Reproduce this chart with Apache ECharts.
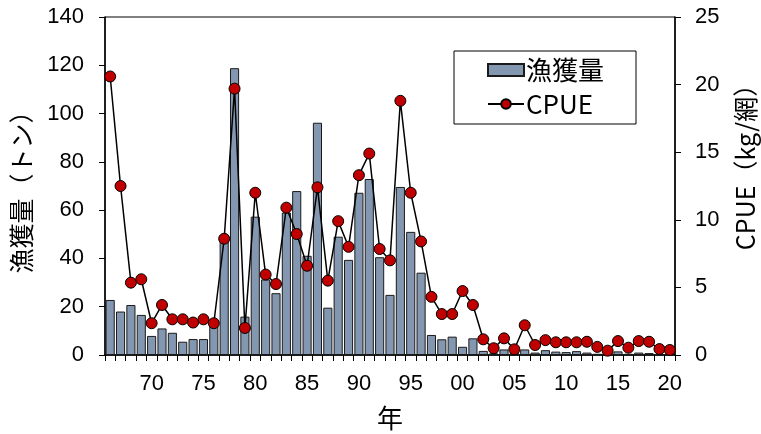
<!DOCTYPE html>
<html>
<head>
<meta charset="utf-8">
<script src="https://cdn.jsdelivr.net/npm/echarts@6/dist/echarts.min.js"></script>
<style>
html,body{margin:0;padding:0;background:#fff;}
#chart{width:761px;height:434px;}
</style>
</head>
<body>
<div id="chart"></div>
<script>
// Years 1966-2020
const years = ['1966','1967','1968','1969','1970','1971','1972','1973','1974','1975',
  '1976','1977','1978','1979','1980','1981','1982','1983','1984','1985',
  '1986','1987','1988','1989','1990','1991','1992','1993','1994','1995',
  '1996','1997','1998','1999','2000','2001','2002','2003','2004','2005',
  '2006','2007','2008','2009','2010','2011','2012','2013','2014','2015',
  '2016','2017','2018','2019','2020'];

// 漁獲量 (トン)
const catchTons = [22.8, 18, 20.7, 16.6, 7.9, 11, 9.2, 5.5, 6.6, 6.6,
  12.4, 48.3, 118.8, 15.9, 57.3, 31.3, 25.6, 59, 67.9, 41.1,
  96.2, 19.6, 49, 39.4, 67.2, 72.9, 40.5, 24.9, 69.6, 51,
  34.1, 8.3, 6.5, 7.6, 3.4, 6.9, 1.7, 0.7, 2.3, 0.9,
  2.3, 1.0, 2.0, 1.4, 1.2, 1.6, 1.0, 0.5, 0.3, 1.5,
  0.5, 1.0, 0.8, 0.3, 0.3];

// CPUE (kg/網)
const cpue = [20.6, 12.5, 5.35, 5.6, 2.35, 3.7, 2.64, 2.64, 2.4, 2.64,
  2.35, 8.6, 19.7, 2.0, 12.0, 5.95, 5.25, 10.9, 8.95, 6.6,
  12.4, 5.5, 9.9, 8.0, 13.3, 14.9, 7.84, 7.0, 18.8, 12.0,
  8.4, 4.3, 3.03, 3.03, 4.73, 3.7, 1.16, 0.5, 1.23, 0.42,
  2.2, 0.74, 1.1, 0.94, 0.94, 0.94, 0.98, 0.6, 0.32, 1.03,
  0.54, 1.03, 0.98, 0.44, 0.37];

const leftTicks = {min: 0, max: 140, interval: 20};
const rightTicks = {min: 0, max: 25, interval: 5};

const latin = '"Liberation Sans", Arial, "Noto Sans CJK JP", sans-serif';
const cjk = '"Noto Sans CJK JP", "Liberation Sans", sans-serif';

const chart = echarts.init(document.getElementById('chart'), null, {renderer: 'canvas'});
chart.setOption({
  animation: false,
  backgroundColor: '#fff',
  grid: {left: 105, right: 86, top: 17, bottom: 79, outerBoundsMode: 'none', containLabel: false,
    show: true, borderColor: '#000', borderWidth: 1, backgroundColor: 'transparent'},
  legend: {
    orient: 'vertical',
    left: 454, top: 51,
    padding: [6, 32, 7, 33],
    itemGap: 8,
    itemWidth: 36, itemHeight: 12,
    borderColor: '#000', borderWidth: 1,
    backgroundColor: '#fff',
    textStyle: {fontSize: 26, fontFamily: cjk, color: '#000', padding: [0,0,0,-3]},
    data: [{name: '漁獲量', icon: 'rect'}, {name: 'CPUE'}]
  },
  xAxis: {
    type: 'category',
    data: years,
    boundaryGap: true,
    name: '年',
    nameLocation: 'middle',
    nameGap: 50,
    nameTextStyle: {fontSize: 26, fontFamily: cjk, color: '#000'},
    axisLine: {lineStyle: {color: '#000', width: 1.5}},
    axisTick: {show: true, interval: 0, length: 6, lineStyle: {color: '#000', width: 1}},
    axisLabel: {
      interval: 0, margin: 18, fontSize: 22, fontFamily: latin, color: '#000',
      formatter: function (v) { return (parseInt(v, 10) % 5 === 0) ? v.slice(2) : ''; }
    },
    splitLine: {show: false}
  },
  yAxis: [
    {
      type: 'value', position: 'left',
      min: leftTicks.min, max: leftTicks.max, interval: leftTicks.interval,
      name: '漁獲量（トン）', nameLocation: 'middle', nameGap: 71, nameRotate: 90,
      nameTextStyle: {fontSize: 25, fontFamily: cjk, color: '#000'},
      axisLine: {show: true, lineStyle: {color: '#000', width: 1.5}},
      axisTick: {show: true, length: 6, lineStyle: {color: '#000'}},
      axisLabel: {margin: 21, fontSize: 22, fontFamily: latin, color: '#000'},
      splitLine: {show: false}
    },
    {
      type: 'value', position: 'right',
      min: rightTicks.min, max: rightTicks.max, interval: rightTicks.interval,
      name: 'CPUE（kg/網）', nameLocation: 'middle', nameGap: 58, nameRotate: 90,
      nameTextStyle: {fontSize: 25, fontFamily: cjk, color: '#000', padding: [0, 0, 0, 50]},
      axisLine: {show: true, lineStyle: {color: '#000', width: 1.5}},
      axisTick: {show: true, length: 6, lineStyle: {color: '#000'}},
      axisLabel: {margin: 20, fontSize: 22, fontFamily: latin, color: '#000'},
      splitLine: {show: false}
    }
  ],
  series: [
    {
      name: '漁獲量', type: 'bar', yAxisIndex: 0,
      data: catchTons,
      barCategoryGap: '12%',
      itemStyle: {color: '#8497B0', borderColor: '#1a1a1a', borderWidth: 1}
    },
    {
      name: 'CPUE', type: 'line', yAxisIndex: 1,
      data: cpue,
      symbol: 'circle', symbolSize: 11,
      lineStyle: {color: '#000', width: 1.5},
      itemStyle: {color: '#C00000', borderColor: '#000', borderWidth: 1}
    }
  ]
});
</script>
</body>
</html>
